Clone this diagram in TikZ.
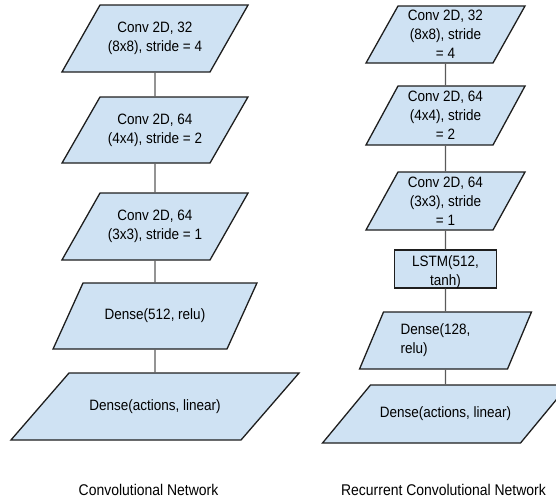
\documentclass[tikz,border=0pt]{standalone}
\usepackage{fontspec}
\setmainfont{Liberation Sans}[FakeStretch=0.9]
\usetikzlibrary{shapes.geometric}

\definecolor{layerfill}{RGB}{207,226,243}
\definecolor{layerline}{RGB}{30,30,30}
\definecolor{linkgray}{RGB}{90,90,90}

% text block of a layer: height, body width, text
\newcommand{\layertext}[3]{\parbox[c][#1][c]{#2}{\centering #3}}

\tikzset{
	layer/.style={trapezium, trapezium left angle=#1, trapezium right angle={180-#1},
		draw=layerline, fill=layerfill, line width=1.3pt, inner sep=0pt,
		font=\fontsize{15}{19}\selectfont},
	cell/.style={rectangle, draw=layerline, fill=layerfill, line width=1.3pt,
		inner sep=0pt, font=\fontsize{15}{19}\selectfont},
	link/.style={draw=linkgray, line width=1.1pt},
	caption/.style={font=\fontsize{15.5}{18}\selectfont}
}

\begin{document}
\begin{tikzpicture}[x=1pt, y=-1pt]
			\useasboundingbox (0,0) rectangle (556,501);

			% convolutional network
			\node[layer=60.4] (cnnconv1) at (155,38.5) {\layertext{67pt}{110pt}{Conv 2D, 32\\(8x8), stride = 4}};
			\node[layer=60.1] (cnnconv2) at (155,130) {\layertext{66pt}{110pt}{Conv 2D, 64\\(4x4), stride = 2}};
			\node[layer=60.4] (cnnconv3) at (155,226.5) {\layertext{67pt}{110pt}{Conv 2D, 64\\(3x3), stride = 1}};
			\node[layer=65.6] (cnndense1) at (155,316) {\layertext{66pt}{144pt}{Dense(512, relu)}};
			\node[layer=49.1] (cnnout) at (155,406.5) {\layertext{67pt}{172pt}{Dense(actions, linear)}};

			\draw[link] (cnnconv1) -- (cnnconv2);
			\draw[link] (cnnconv2) -- (cnnconv3);
			\draw[link] (cnnconv3) -- (cnndense1);
			\draw[link] (cnndense1) -- (cnnout);

			\node[caption] (cnnlabel) at (148.5,490) {Convolutional Network};

			% recurrent convolutional network
			\node[layer=60.7] (rcnconv1) at (445.5,34.5) {\layertext{57pt}{95pt}{Conv 2D, 32\\(8x8), stride\\= 4}};
			\node[layer=61.5] (rcnconv2) at (445.5,115.5) {\layertext{59pt}{95pt}{Conv 2D, 64\\(4x4), stride\\= 2}};
			\node[layer=61.1] (rcnconv3) at (445.5,201) {\layertext{58pt}{95pt}{Conv 2D, 64\\(3x3), stride\\= 1}};
			\node[cell] (rcnlstm) at (445.5,269) {\layertext{38pt}{102pt}{\vspace*{7pt}LSTM(512,\\tanh)}};
			\node[layer=67.2] (rcndense1) at (445.5,340.5) {\parbox[c][57pt][c]{124pt}{\raggedright\leftskip=17pt Dense(128,\\relu)}};
			\node[layer=50.4] (rcnout) at (445.5,414) {\layertext{58pt}{150pt}{Dense(actions, linear)}};

			\draw[link] (rcnconv1) -- (rcnconv2);
			\draw[link] (rcnconv2) -- (rcnconv3);
			\draw[link] (rcnconv3) -- (rcnlstm);
			\draw[link] (rcnlstm) -- (rcndense1);
			\draw[link] (rcndense1) -- (rcnout);

			\node[caption] (rcnlabel) at (443.5,490) {Recurrent Convolutional Network};
\end{tikzpicture}
\end{document}
